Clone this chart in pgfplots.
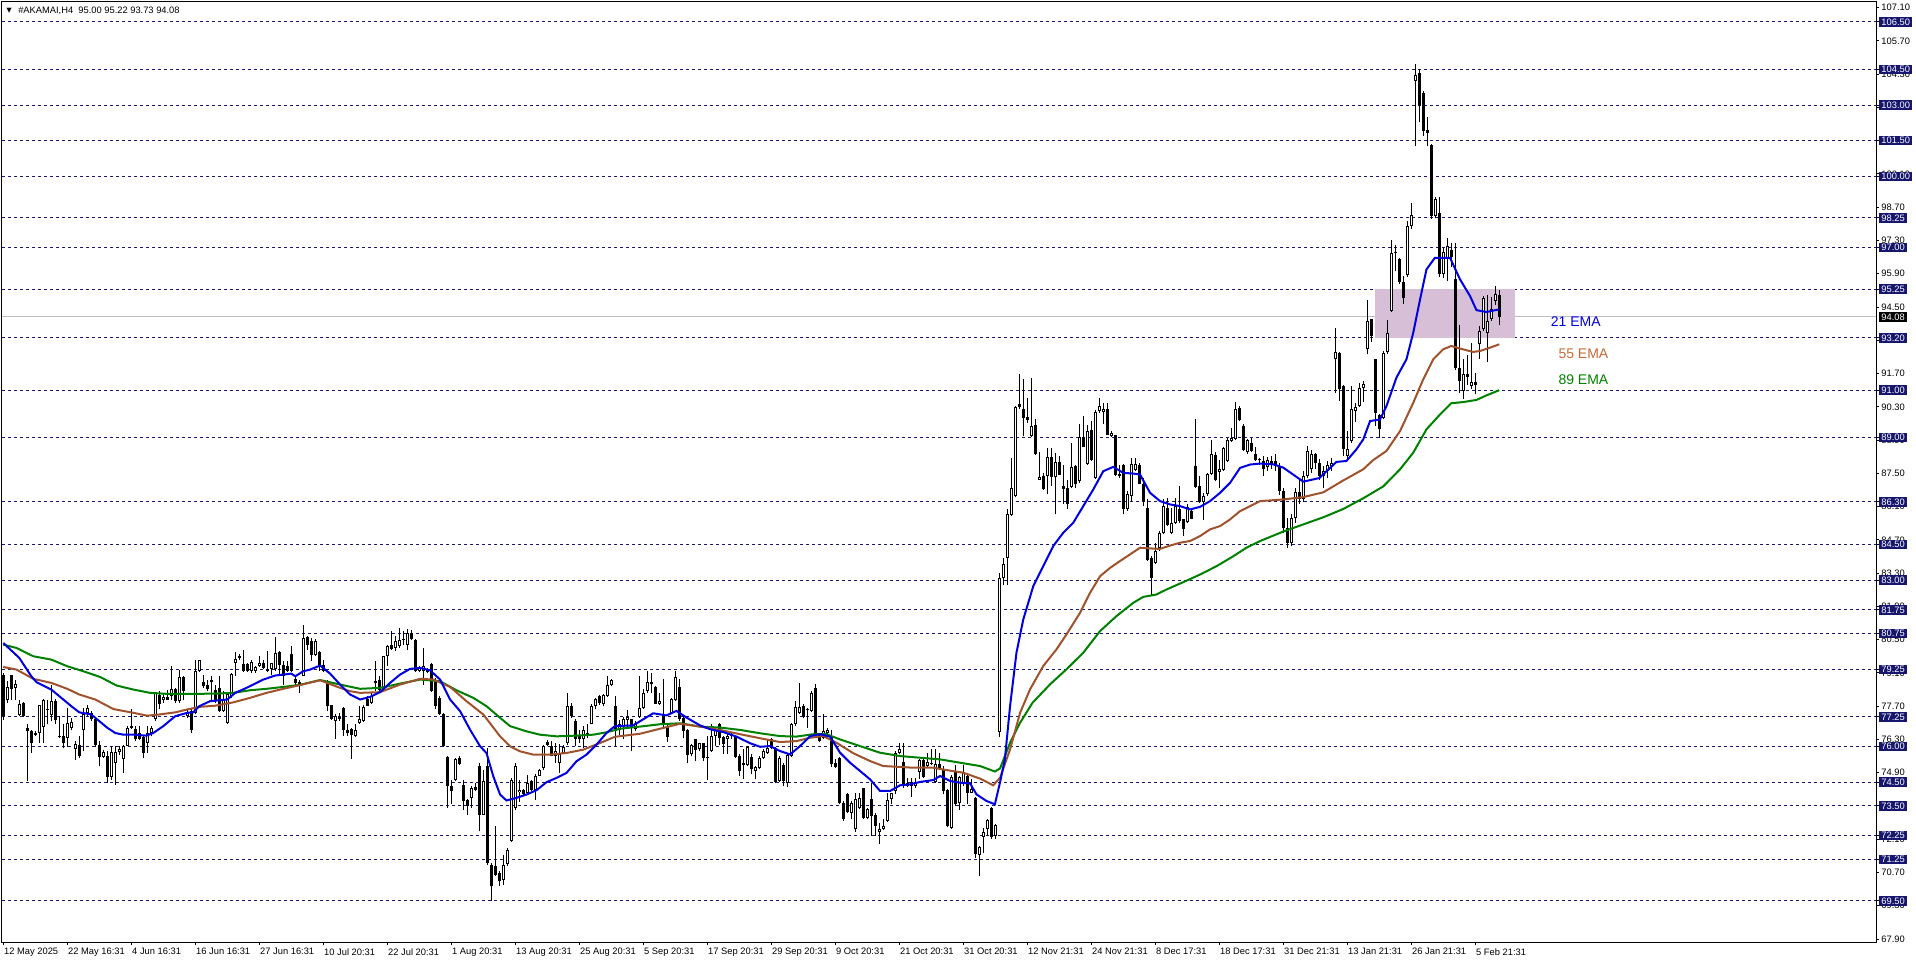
\documentclass[border=0pt]{standalone}
\usepackage{pgfplots}
\pgfplotsset{compat=1.18}
\usepackage{pgfplotstable}
\usepackage{fontspec}
\setmainfont{Liberation Sans}
\newfontfamily\symfont{DejaVu Sans}

\definecolor{lvlnavy}{RGB}{22,22,110}
\definecolor{emablue}{RGB}{0,0,225}
\definecolor{emabrown}{RGB}{160,82,45}
\definecolor{emagreen}{RGB}{0,128,0}
\definecolor{lbl55}{RGB}{195,105,55}
\definecolor{zone}{RGB}{216,191,216}
\definecolor{pricegray}{RGB}{192,192,192}

% H4 bars: index, open, high, low, close
\pgfplotstableread{
i o h l c
0 79.00 79.10 77.10 77.30
1 77.95 78.75 77.84 78.51
2 79.00 79.03 77.98 78.43
3 78.47 78.82 77.98 78.65
4 77.32 77.98 77.28 77.81
5 77.84 77.87 77.25 77.28
6 76.79 76.93 74.57 76.64
7 76.64 76.71 75.73 76.15
8 76.48 76.64 76.43 76.57
9 76.57 77.77 76.13 77.74
10 76.83 78.00 76.15 77.95
11 77.53 77.98 76.93 77.58
12 77.32 78.61 77.07 77.93
13 77.93 78.00 76.93 77.11
14 76.46 77.28 76.36 76.42
15 76.43 76.93 75.94 76.15
16 76.36 77.63 76.00 76.99
17 76.79 77.21 76.68 77.02
18 75.90 76.22 75.45 76.11
19 76.08 76.43 75.52 75.60
20 76.71 77.63 75.80 77.35
21 77.42 77.77 77.28 77.63
22 77.42 77.49 77.07 77.14
23 77.14 77.17 76.00 76.07
24 76.07 76.22 75.17 75.55
25 75.57 75.87 75.52 75.78
26 75.59 75.80 74.47 74.71
27 74.71 76.01 74.61 75.76
28 75.31 76.04 74.40 75.76
29 75.76 76.01 75.66 75.90
30 75.48 76.08 74.89 76.04
31 76.02 76.86 76.01 76.79
32 76.79 77.60 76.75 76.85
33 76.76 76.86 76.22 76.30
34 76.57 76.86 76.29 76.32
35 76.40 76.43 75.52 75.73
36 76.15 76.86 75.73 76.57
37 76.57 76.86 76.43 76.79
38 77.14 78.30 77.07 78.26
39 78.19 78.33 77.56 77.81
40 77.98 78.26 77.84 78.09
41 77.98 78.40 77.95 78.08
42 78.12 79.38 77.98 78.43
43 78.43 78.47 77.84 77.91
44 77.91 79.24 77.84 78.93
45 78.93 78.99 77.98 78.33
46 77.28 77.56 77.21 77.42
47 77.49 77.56 76.57 76.71
48 77.42 79.66 77.35 79.17
49 79.20 79.66 79.13 79.63
50 78.71 79.00 78.47 78.54
51 78.57 78.82 78.33 78.43
52 78.80 78.99 77.91 78.70
53 78.40 78.61 77.84 77.91
54 78.47 78.99 77.46 77.48
55 77.48 78.33 77.44 77.98
56 77.00 78.26 76.95 78.23
57 78.12 79.10 78.05 79.07
58 79.52 80.00 78.96 79.70
59 79.73 79.91 79.66 79.83
60 79.49 80.08 79.13 79.17
61 79.49 79.52 79.13 79.17
62 79.17 79.66 79.10 79.55
63 79.20 79.38 79.10 79.34
64 79.38 79.80 79.34 79.52
65 79.52 79.66 79.27 79.31
66 79.27 80.01 79.13 79.17
67 79.27 79.52 79.03 79.52
68 79.26 80.61 79.20 79.94
69 79.97 80.01 78.96 79.45
70 79.45 79.59 78.61 78.96
71 79.38 79.59 79.13 79.17
72 79.91 80.22 79.13 79.17
73 78.85 78.99 78.61 78.68
74 78.70 78.82 78.26 78.63
75 78.99 81.13 78.96 80.57
76 80.61 80.64 80.08 80.29
77 80.43 80.57 79.59 79.87
78 79.87 80.53 79.80 80.43
79 79.97 80.01 79.17 79.45
80 79.45 79.66 79.13 79.17
81 78.71 78.82 77.48 77.72
82 77.75 77.77 77.11 77.14
83 77.07 77.35 76.33 77.28
84 77.25 77.42 77.07 77.14
85 77.63 77.67 76.43 76.69
86 76.71 76.97 76.43 76.55
87 76.74 76.78 75.48 76.50
88 76.43 76.93 76.40 76.71
89 76.99 77.72 76.96 77.14
90 77.07 77.77 77.03 77.67
91 78.00 78.12 77.70 77.72
92 77.84 78.26 77.81 78.12
93 78.68 79.59 78.33 78.78
94 78.82 78.96 78.33 78.40
95 78.43 79.83 78.40 79.80
96 79.80 80.29 79.41 80.22
97 80.29 80.85 80.08 80.10
98 80.15 80.64 80.01 80.43
99 80.22 80.99 80.15 80.50
100 80.50 80.85 80.29 80.53
101 80.29 80.95 80.08 80.78
102 80.78 80.92 80.50 80.53
103 80.50 80.53 79.13 79.17
104 79.20 79.38 79.13 79.34
105 79.20 80.15 78.61 79.38
106 79.21 79.31 79.10 79.13
107 79.48 79.52 78.29 78.33
108 78.82 78.89 77.56 77.70
109 78.05 78.12 77.31 77.35
110 77.39 77.42 75.98 76.01
111 75.55 75.59 73.42 74.33
112 74.36 74.61 73.60 74.12
113 74.61 75.52 74.54 75.48
114 75.52 75.59 75.24 75.28
115 74.40 74.58 73.35 73.70
116 73.73 73.80 73.13 73.49
117 73.84 74.33 73.42 74.26
118 74.19 74.47 74.12 74.29
119 75.20 75.31 72.44 73.14
120 73.14 75.03 73.10 74.57
121 75.20 75.94 71.03 71.10
122 71.03 71.10 69.50 70.12
123 70.96 72.65 70.54 70.61
124 70.68 70.75 70.12 70.33
125 70.40 71.45 70.19 71.03
126 71.06 71.73 70.96 71.66
127 72.02 74.68 71.98 74.61
128 73.42 75.31 73.35 75.17
129 74.08 74.61 73.67 74.19
130 74.19 74.22 73.91 74.01
131 74.05 74.82 73.98 74.47
132 74.54 74.61 74.12 74.16
133 74.16 74.85 73.77 74.78
134 74.78 75.06 74.75 75.00
135 75.10 76.08 75.03 76.01
136 76.08 76.29 76.01 76.18
137 76.01 76.25 75.59 75.62
138 75.62 76.15 75.31 75.80
139 75.31 76.12 74.89 75.70
140 75.73 76.06 75.70 75.99
141 76.13 78.26 76.08 77.70
142 77.72 77.84 77.21 77.28
143 77.07 77.14 76.01 76.32
144 76.50 76.71 76.15 76.32
145 76.32 76.88 75.94 76.71
146 76.50 76.93 76.36 76.57
147 76.97 77.81 76.93 77.72
148 77.72 78.05 77.56 78.02
149 78.12 78.19 77.77 77.84
150 77.80 78.22 77.70 78.15
151 78.12 78.96 78.09 78.57
152 78.61 78.85 78.54 78.82
153 77.70 78.12 76.01 76.65
154 76.70 77.10 76.50 76.95
155 76.84 77.26 76.30 77.15
156 77.12 77.54 76.84 77.26
157 77.15 77.18 75.81 76.84
158 76.73 77.07 76.66 77.00
159 77.26 78.97 77.22 77.64
160 77.64 78.41 77.57 78.24
161 78.34 79.18 78.27 78.72
162 78.72 79.11 78.27 78.62
163 78.51 78.55 77.78 77.80
164 77.80 78.27 77.76 77.93
165 77.31 78.86 76.84 76.89
166 76.84 76.94 76.19 76.42
167 77.40 78.06 77.36 77.99
168 77.96 79.18 77.92 78.94
169 78.52 78.83 77.08 77.15
170 77.22 77.29 76.35 76.66
171 76.68 76.73 75.30 75.65
172 75.67 76.09 75.60 76.05
173 76.30 76.33 75.39 75.85
174 75.88 76.16 75.81 76.14
175 76.14 76.16 75.39 75.53
176 75.56 76.45 74.60 75.53
177 75.81 76.94 75.77 76.45
178 76.45 76.84 76.02 76.75
179 76.94 76.98 76.05 76.38
180 76.40 76.44 75.67 76.09
181 76.33 76.52 75.67 76.44
182 76.44 76.59 76.30 76.50
183 76.40 76.44 75.53 75.57
184 75.60 75.67 74.76 74.97
185 75.30 75.88 74.62 75.23
186 75.21 76.02 75.18 75.99
187 75.57 75.67 74.83 75.04
188 74.97 75.18 74.62 75.16
189 75.11 75.60 75.04 75.50
190 75.53 75.88 75.46 75.81
191 75.74 76.30 75.67 75.95
192 76.30 76.37 75.88 75.95
193 75.95 75.99 74.45 74.52
194 74.55 75.60 74.52 75.50
195 75.21 75.32 74.34 74.55
196 74.45 75.67 74.31 75.63
197 75.60 77.01 75.57 76.94
198 76.94 77.92 76.87 77.68
199 77.40 78.69 77.36 77.68
200 77.71 77.78 77.22 77.26
201 77.57 77.64 76.80 77.55
202 77.50 78.34 77.46 78.27
203 78.48 78.62 76.41 76.44
204 76.52 76.59 76.19 76.23
205 76.37 77.36 76.30 76.66
206 76.55 76.80 76.44 76.70
207 76.44 76.70 75.15 75.25
208 75.30 75.46 75.11 75.16
209 75.53 75.57 73.57 73.61
210 73.64 73.71 72.87 72.94
211 73.99 74.03 73.19 73.25
212 73.22 73.71 72.94 73.61
213 72.52 74.06 72.41 73.78
214 73.40 74.06 73.36 73.85
215 74.24 74.27 72.94 73.01
216 73.01 73.43 72.94 73.36
217 73.81 74.45 72.24 73.08
218 73.11 73.22 72.24 72.66
219 72.41 72.80 71.90 72.52
220 72.52 72.97 72.49 72.66
221 72.87 74.06 72.83 73.75
222 73.81 74.06 73.57 74.03
223 74.13 75.81 73.99 75.74
224 75.74 76.16 75.67 75.91
225 75.37 76.16 74.27 74.34
226 74.34 74.69 74.31 74.48
227 74.50 74.69 73.88 74.34
228 74.34 74.69 74.27 74.48
229 74.93 75.49 74.65 75.43
230 75.43 75.53 74.69 74.73
231 75.18 75.74 75.11 75.35
232 75.25 75.88 75.21 75.32
233 74.51 75.88 74.48 75.25
234 75.25 75.74 75.00 75.04
235 75.01 75.18 73.99 74.13
236 74.17 74.20 72.62 72.66
237 72.59 74.79 72.55 74.73
238 74.97 75.21 73.50 73.57
239 73.61 74.76 73.33 74.73
240 74.41 75.21 74.34 74.87
241 74.76 74.83 73.57 74.06
242 74.06 74.65 74.03 74.20
243 73.85 73.88 71.33 71.47
244 71.44 71.82 70.55 71.79
245 72.21 72.59 71.54 72.41
246 72.55 72.94 72.24 72.90
247 73.43 73.47 72.13 72.21
248 72.24 72.73 72.10 72.69
249 76.60 83.30 76.40 83.10
250 83.10 83.95 82.82 83.70
251 83.95 85.98 82.78 85.77
252 85.73 88.15 85.70 86.89
253 86.54 90.33 86.51 90.30
254 90.30 91.70 90.19 90.40
255 90.21 91.48 89.06 89.84
256 89.88 90.68 89.63 89.74
257 89.06 91.52 89.03 89.51
258 89.54 89.77 88.29 88.32
259 87.24 88.40 87.21 87.35
260 87.38 87.52 86.79 86.82
261 87.38 88.57 86.61 88.19
262 88.19 88.57 86.96 87.35
263 87.35 88.36 85.77 87.97
264 87.97 88.22 87.41 87.45
265 86.96 87.87 86.19 86.82
266 86.89 87.24 85.98 86.19
267 86.93 88.78 86.89 87.77
268 87.80 87.87 86.89 87.07
269 87.17 89.56 87.10 89.04
270 89.04 89.93 88.60 88.62
271 87.91 89.53 87.87 89.28
272 89.32 89.70 88.01 88.08
273 87.31 90.17 87.27 90.07
274 90.12 90.68 90.05 90.35
275 90.07 90.47 89.56 90.21
276 90.21 90.47 89.10 89.13
277 89.06 89.27 89.03 89.20
278 89.10 89.13 87.38 87.41
279 87.49 87.87 87.31 87.38
280 87.87 87.91 85.77 85.98
281 85.98 86.75 85.91 86.61
282 86.54 88.15 86.33 87.91
283 87.66 88.15 87.59 87.91
284 87.87 87.94 87.03 87.07
285 87.07 87.31 86.12 86.33
286 86.05 86.40 83.81 83.87
287 83.95 84.02 82.40 83.10
288 83.73 84.58 83.70 84.23
289 84.37 85.07 84.23 85.00
290 85.00 86.40 84.93 86.12
291 86.05 86.47 85.28 85.31
292 85.00 86.05 84.93 85.42
293 85.42 86.47 85.35 86.12
294 85.98 86.96 85.42 85.49
295 85.56 85.59 84.86 85.14
296 85.45 86.19 85.42 86.09
297 85.91 86.01 85.56 85.59
298 87.80 89.77 86.89 86.93
299 86.96 87.38 86.26 86.29
300 86.29 86.68 85.54 86.54
301 86.61 87.52 86.54 87.49
302 87.49 88.92 87.45 88.33
303 88.29 88.40 87.17 87.21
304 87.56 88.08 86.89 87.69
305 87.63 88.61 87.59 88.57
306 88.01 88.99 87.97 88.92
307 88.85 89.41 88.81 88.98
308 88.95 90.50 88.92 90.21
309 90.26 90.33 89.70 89.74
310 89.51 89.56 88.43 88.50
311 88.39 88.95 88.33 88.92
312 88.76 89.00 88.40 88.43
313 88.33 88.61 88.01 88.08
314 88.05 88.15 87.85 88.10
315 88.02 88.23 87.40 87.70
316 87.75 88.20 87.60 88.05
317 87.90 88.25 87.70 88.00
318 88.00 88.30 87.60 87.80
319 87.80 87.95 86.60 86.75
320 86.75 86.90 85.00 85.20
321 85.20 85.60 84.35 84.55
322 84.55 85.80 84.45 85.60
323 85.60 86.90 85.40 86.70
324 86.70 87.30 86.20 86.40
325 86.40 87.60 86.30 87.40
326 87.40 88.64 87.30 88.44
327 87.70 88.49 87.50 88.33
328 88.30 88.35 87.67 87.95
329 87.95 88.10 87.20 87.40
330 87.40 87.80 86.90 87.60
331 87.60 88.00 87.30 87.85
332 87.80 88.15 87.60 87.95
333 92.31 93.60 90.90 92.60
334 92.57 92.60 90.55 91.04
335 91.18 91.21 88.23 88.51
336 88.24 89.28 88.10 88.54
337 88.86 91.18 88.79 90.20
338 90.12 90.45 89.66 90.31
339 90.33 91.32 90.30 91.11
340 91.11 91.39 90.52 91.25
341 92.75 94.80 92.51 93.92
342 93.98 94.00 93.03 93.28
343 92.30 92.33 89.49 90.05
344 89.94 89.98 89.00 89.35
345 89.84 92.65 89.77 92.55
346 92.60 93.95 92.53 93.42
347 94.33 97.30 94.29 96.79
348 96.79 97.10 96.00 96.81
349 96.53 96.57 95.45 95.55
350 95.55 95.80 94.61 94.89
351 95.83 98.12 95.78 97.91
352 97.91 98.89 97.77 98.37
353 104.01 104.71 101.27 104.26
354 104.33 104.53 102.29 102.96
355 103.49 103.59 101.69 101.90
356 101.97 102.50 101.27 101.83
357 101.34 101.38 98.22 98.33
358 98.33 99.14 98.26 99.06
359 98.44 99.14 95.78 95.87
360 95.87 97.00 95.73 96.83
361 96.57 97.42 95.59 97.06
362 96.90 97.20 96.20 96.60
363 95.69 97.18 91.87 91.94
364 91.94 93.73 90.90 91.39
365 90.97 92.30 90.62 91.66
366 91.70 92.47 91.20 91.55
367 91.16 92.97 91.05 91.35
368 91.35 91.74 90.82 91.20
369 92.93 93.70 92.33 93.49
370 93.56 94.96 93.49 94.89
371 93.42 94.99 92.19 93.92
372 93.98 94.93 93.91 94.43
373 94.75 95.38 94.60 95.03
374 95.00 95.22 93.73 94.08
}\candles

\begin{document}
\begin{tikzpicture}
\path[use as bounding box] (0,0) rectangle (1437pt,722.25pt);
\begin{axis}[
  at={(1.5pt,15.5pt)}, anchor=south west,
  scale only axis, width=1405.5pt, height=705.45pt,
  xmin=-0.325, xmax=468.2, ymin=67.76, ymax=107.35,
  axis line style={black, line width=0.75pt},
  tick align=outside, major tick length=2.25pt,
  tick style={black, line width=0.75pt},
  xtick pos=bottom, ytick pos=right, yticklabel pos=right,
  tick label style={font=\fontsize{7}{8}\selectfont, black},
  xtick={0,16,...,368},
  xticklabels={12 May 2025, 22 May 16:31, 4 Jun 16:31, 16 Jun 16:31, 27 Jun 16:31,
    10 Jul 20:31, 22 Jul 20:31, 1 Aug 20:31, 13 Aug 20:31, 25 Aug 20:31,
    5 Sep 20:31, 17 Sep 20:31, 29 Sep 20:31, 9 Oct 20:31, 21 Oct 20:31,
    31 Oct 20:31, 12 Nov 21:31, 24 Nov 21:31, 8 Dec 17:31, 18 Dec 17:31,
    31 Dec 21:31, 13 Jan 21:31, 26 Jan 21:31, 5 Feb 21:31},
  xticklabel style={anchor=north west, inner sep=0pt, xshift=0.5pt, yshift=-2pt},
  ytick={67.9,69.3,70.7,72.1,73.5,74.9,76.3,77.7,79.1,80.5,81.9,83.3,84.7,86.1,
    87.5,88.9,90.3,91.7,93.1,94.5,95.9,97.3,98.7,100.1,101.5,102.9,104.3,105.7,107.1},
  yticklabel style={anchor=west, inner xsep=1.6pt, inner ysep=1.1pt},
  /pgf/number format/fixed, /pgf/number format/fixed zerofill,
  /pgf/number format/precision=2, /pgf/number format/assume math mode=true,
  extra y ticks={106.5,104.5,103,101.5,100,98.25,97,95.25,93.2,91,89,86.3,84.5,
    83,81.75,80.75,79.25,77.25,76,74.5,73.5,72.25,71.25,69.5},
  extra y tick style={
    grid=major,
    major grid style={lvlnavy, dash pattern=on 2.25pt off 2.25pt, line width=0.75pt},
    yticklabel style={fill=lvlnavy, text=white},
  },
]
% current price line and zone
\addplot[pricegray, line width=0.75pt] coordinates {(-1,94.08) (470,94.08)};
\addplot[fill=zone, draw=none] coordinates {(342.9,93.2) (377.9,93.2) (377.9,95.25) (342.9,95.25)} -- cycle;

% candles: wicks, bodies, hollow up-bodies
\addplot[quiver={u=0, v=\thisrow{h}-\thisrow{l}}, draw=black, line width=0.75pt]
  table[x=i, y=l] {\candles};
\addplot[quiver={u=0, v={max(abs(\thisrow{c}-\thisrow{o}),0.045)}}, draw=black, line width=2.25pt]
  table[x=i, y expr={min(\thisrow{o},\thisrow{c})}] {\candles};
\addplot[quiver={u=0, v={\thisrow{c}-\thisrow{o}-0.084}}, draw=white, line width=0.75pt]
  table[x expr={\thisrow{c}-\thisrow{o}>0.1 ? \thisrow{i} : nan}, y expr={\thisrow{o}+0.042}] {\candles};

% 89 EMA
\addplot[emagreen, line width=1.5pt] coordinates {
(0,80.29) (3.3,80.15) (7.5,79.80) (12,79.66) (16,79.38) (20,79.17) (24.2,78.93) (28.3,78.57)
(32.5,78.40) (36.7,78.26) (40.8,78.22) (45.8,78.22) (49.2,78.22) (53.3,78.23) (57.5,78.26)
(61.7,78.37) (65.8,78.43) (70,78.51) (74.2,78.60) (79.2,78.80) (84.2,78.61) (89.2,78.43)
(94.2,78.47) (99.2,78.65) (104.2,78.82) (109.2,78.75) (113.3,78.37) (117.5,78.05) (120.8,77.70)
(124.2,77.21) (126.7,76.86) (130.8,76.64) (134.2,76.50) (138.3,76.43) (143.3,76.46) (147.5,76.50)
(150.8,76.60) (154.2,76.75) (159.2,76.84) (164.2,76.94) (169.2,76.98) (174.2,76.84) (179.2,76.80)
(184.2,76.70) (189.2,76.56) (194.2,76.44) (198.3,76.42) (202.5,76.52) (205.8,76.52) (209.2,76.30)
(214.2,76.02) (219.2,75.74) (224.2,75.60) (229.2,75.53) (234.2,75.46) (239.2,75.32) (244.2,75.18)
(247.9,74.95) (249.2,75.08) (251.7,76.16) (254.2,77.00) (257.3,77.84) (261.7,78.62) (265.8,79.25)
(270,79.95) (274.2,80.86) (278.3,81.49) (282.5,82.05) (285,82.30) (288.3,82.40) (290.8,82.61)
(295,82.92) (299.2,83.24) (303.3,83.59) (307.5,84.01) (310.8,84.37) (314.2,84.65) (320,85.05)
(325,85.35) (330,85.65) (335,86.00) (340,86.45) (345,86.95) (349.2,87.67) (352.5,88.37)
(355.8,89.35) (359.2,89.98) (362,90.45) (365,90.50) (368.3,90.59) (370.8,90.78) (374,91.00)
};
% 55 EMA
\addplot[emabrown, line width=1.5pt] coordinates {
(0,79.35) (3.3,79.24) (7.5,78.85) (12,78.68) (16,78.43) (19,78.19) (23,77.98) (27.5,77.58)
(32.5,77.42) (36,77.30) (39,77.35) (43,77.44) (46,77.56) (49,77.67) (53,77.72) (57.5,77.86)
(61.7,78.05) (65.8,78.26) (70,78.43) (74,78.58) (79.2,78.79) (84.2,78.47) (86.7,78.33)
(89.2,78.26) (94.2,78.29) (99.2,78.61) (104.2,78.85) (107.5,78.82) (111.7,78.51) (115.8,77.91)
(120,77.35) (124.2,76.43) (126.7,76.01) (129.2,75.80) (132.5,75.66) (136.7,75.66) (140.8,75.73)
(145,75.87) (149.2,76.15) (152.9,76.41) (159.2,76.54) (164.2,76.75) (169.2,76.96) (174.2,76.84)
(179.2,76.70) (184.2,76.52) (189.2,76.35) (194.2,76.19) (198.3,76.23) (201.7,76.37) (205,76.44)
(208.3,76.16) (212.5,75.72) (216.7,75.39) (220,75.18) (223.3,75.15) (227.5,75.11) (232.5,75.11)
(235.8,75.01) (240,74.90) (244.2,74.65) (247.5,74.37) (249.2,74.69) (251.7,75.88) (254.2,77.42)
(256.7,78.41) (260,79.39) (263.3,80.09) (265.8,80.72) (269.2,81.63) (271.7,82.47) (274.2,83.17)
(276.7,83.52) (279.2,83.81) (281.7,84.09) (284.2,84.37) (286.7,84.34) (289.2,84.32) (291.7,84.46)
(294.2,84.58) (296.7,84.65) (299.2,84.86) (301.7,85.14) (304.2,85.28) (306.7,85.56) (309.2,85.91)
(311.7,86.12) (314.2,86.33) (320,86.40) (325,86.50) (330,86.70) (335,87.20) (340,87.67)
(342.5,88.06) (345.8,88.44) (349.2,89.28) (352.5,90.47) (355,91.46) (357.5,92.30) (360,92.72)
(362,92.86) (364.2,92.75) (367.5,92.61) (369.2,92.65) (371.7,92.79) (374,92.93)
};
% 21 EMA
\addplot[emablue, line width=1.5pt] coordinates {
(0,80.36) (4,79.73) (7,78.96) (8.3,78.71) (12,78.40) (14,78.12) (17,77.70) (19,77.44) (22,77.35)
(24,77.07) (26,76.79) (28,76.57) (30,76.50) (32.5,76.50) (35.8,76.46) (37.5,76.57) (40,76.86)
(43,77.28) (46,77.42) (47.5,77.44) (49,77.70) (51.7,77.91) (56,77.98) (58,78.26) (60.8,78.47)
(65,78.82) (68,78.99) (72,79.07) (73,78.96) (75,79.17) (76.7,79.24) (79.2,79.41) (81.7,79.07)
(84.2,78.61) (86.7,78.19) (89.2,77.98) (91.7,78.09) (94.2,78.29) (96.7,78.68) (99.2,79.03)
(101.7,79.27) (104.2,79.31) (106.7,79.21) (109.2,78.82) (111.7,77.98) (114.2,77.49) (116.7,76.71)
(119.2,76.01) (120.8,75.73) (122.5,74.75) (124.2,73.98) (125.8,73.73) (128.3,73.84) (130.8,73.98)
(133.3,74.16) (135.8,74.50) (138.3,74.68) (140.8,74.89) (143.3,75.38) (145.8,75.66) (148.3,76.08)
(150.8,76.57) (152.9,76.86) (157.5,76.89) (160,77.15) (162.5,77.40) (165.8,77.31) (168.3,77.50)
(170.8,77.22) (174.2,76.89) (176.7,76.73) (180,76.61) (183.3,76.42) (186.7,76.14) (189.2,75.99)
(191.7,76.02) (194.2,75.81) (196.7,75.67) (199.2,76.02) (201.7,76.44) (204.2,76.52) (206.7,76.42)
(209.2,75.74) (211.7,75.32) (214.2,74.97) (216.7,74.62) (219.2,74.13) (221.7,74.13) (224.2,74.37)
(226.7,74.41) (229.2,74.51) (232.5,74.59) (234.2,74.76) (236.7,74.55) (239.2,74.48) (241.7,74.45)
(243.3,73.99) (245.8,73.71) (247.9,73.57) (249.2,74.50) (250.4,75.46) (251.7,77.70) (253.3,79.95)
(255,81.35) (257.5,82.75) (260,83.60) (262.5,84.44) (265,85.00) (267.5,85.42) (270,86.12)
(272.5,86.82) (275,87.59) (277.5,87.77) (280,87.52) (282.5,87.49) (284.2,87.45) (286.7,86.68)
(289.2,86.33) (291.7,86.19) (294.2,86.12) (296.7,85.98) (299.2,86.09) (301.7,86.33) (304.2,86.68)
(306.7,87.10) (309.2,87.73) (311.7,87.87) (314.2,87.91) (317.5,87.88) (320,87.74) (325,87.15)
(329,87.30) (333.3,87.98) (335.8,88.02) (338.3,88.51) (340,88.93) (341.7,89.70) (344.2,89.77)
(345.8,90.33) (348.3,91.53) (350.8,92.30) (352.5,93.42) (354.2,94.82) (355.8,96.08) (357.9,96.57)
(361.7,96.57) (364.2,95.66) (366.7,94.96) (368.3,94.37) (370.8,94.29) (374,94.40)
};

\node[anchor=west, inner sep=0pt, text=emablue, font=\fontsize{10.5}{12}\selectfont] at (axis cs:386.85,93.87) {21 EMA};
\node[anchor=west, inner sep=0pt, text=lbl55, font=\fontsize{10.5}{12}\selectfont] at (axis cs:388.75,92.53) {55 EMA};
\node[anchor=west, inner sep=0pt, text=emagreen, font=\fontsize{10.5}{12}\selectfont] at (axis cs:388.75,91.43) {89 EMA};
\coordinate (cur) at (axis cs:468.2,94.08);
\end{axis}
\node[anchor=west, fill=black, text=white, inner xsep=1.6pt, inner ysep=1.1pt,
  font=\fontsize{7}{8}\selectfont, xshift=2.25pt] at (cur) {94.08};
\node[inner sep=0pt, font=\symfont\fontsize{5}{6}\selectfont] at (6.9pt,714pt) {▼};
\node[anchor=west, inner sep=0pt, font=\fontsize{7}{8}\selectfont] at (13.5pt,714pt)
  {\#AKAMAI,H4\ \ 95.00 95.22 93.73 94.08};
\end{tikzpicture}
\end{document}
